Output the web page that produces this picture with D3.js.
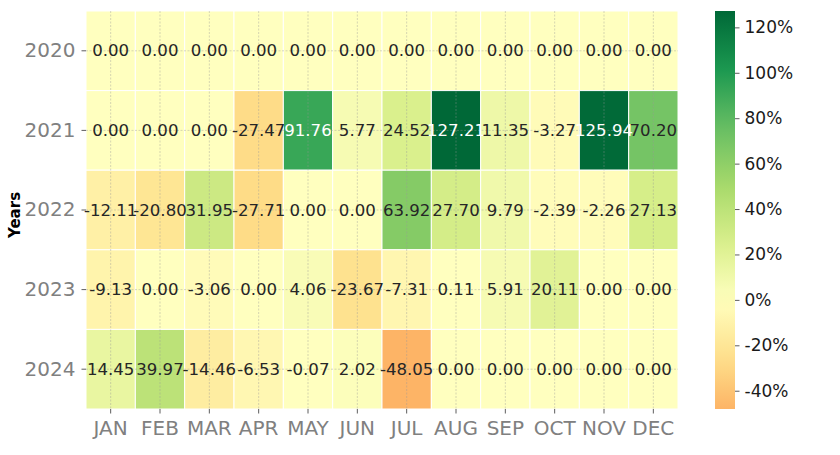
<!DOCTYPE html>
<html><head><meta charset="utf-8">
<script src="https://cdn.jsdelivr.net/npm/d3@7"></script>
<style>body{margin:0;background:#fff}svg{display:block;font-family:"DejaVu Sans",sans-serif}</style>
</head><body><svg id="c" width="840" height="455"></svg>
<script>
const months = ["JAN","FEB","MAR","APR","MAY","JUN","JUL","AUG","SEP","OCT","NOV","DEC"];
const years = ["2020","2021","2022","2023","2024"];
const v2020 = [0,0,0,0,0,0,0,0,0,0,0,0];
const v2021 = [0,0,0,-27.47,91.76,5.77,24.52,127.21,11.35,-3.27,125.94,70.20];
const v2022 = [-12.11,-20.80,31.95,-27.71,0,0,63.92,27.70,9.79,-2.39,-2.26,27.13];
const v2023 = [-9.13,0,-3.06,0,4.06,-23.67,-7.31,0.11,5.91,20.11,0,0];
const v2024 = [14.45,39.97,-14.46,-6.53,-0.07,2.02,-48.05,0,0,0,0,0];
const rows = [v2020,v2021,v2022,v2023,v2024];
const cbTicks = [-40,-20,0,20,40,60,80,100,120];

const svg = d3.select("#c");
const L=86,R=678,T=11,B=409;
const x = d3.scaleBand().domain(months).range([L,R]);
const y = d3.scaleBand().domain(years).range([T,B]);
const all = rows.flat();
const vmin = d3.min(all), vmax = d3.max(all);
const vr = Math.max(vmax, -vmin);
const stops = ["#a50026","#d73027","#f46d43","#fdae61","#fee08b","#ffffbf","#d9ef8b","#a6d96a","#66bd63","#1a9850","#006837"];
const cm = d3.scaleLinear().domain(d3.range(11).map(i=>i/10)).range(stops).interpolate(d3.interpolateRgb).clamp(true);
const color = v => cm(0.5 + v/(2*vr));
function lum(c){const r=d3.rgb(c);const f=u=>{u/=255;return u<=0.03928?u/12.92:Math.pow((u+0.055)/1.055,2.4)};return 0.2126*f(r.r)+0.7152*f(r.g)+0.0722*f(r.b);}

const cells=[];
rows.forEach((r,i)=>r.forEach((v,j)=>cells.push({yr:years[i],m:months[j],v})));
svg.append("g").selectAll("rect").data(cells).join("rect")
  .attr("x",d=>x(d.m)).attr("y",d=>y(d.yr)).attr("width",x.bandwidth()).attr("height",y.bandwidth())
  .attr("fill",d=>color(d.v)).attr("stroke","#fff").attr("stroke-width",1);

// grid
const g = svg.append("g").attr("stroke","#999").attr("stroke-width",0.5).attr("stroke-dasharray","2,1.5").attr("opacity",0.8);
months.forEach(m=>g.append("line").attr("x1",x(m)+x.bandwidth()/2).attr("x2",x(m)+x.bandwidth()/2).attr("y1",T).attr("y2",B));
years.forEach(yr=>g.append("line").attr("y1",y(yr)+y.bandwidth()/2).attr("y2",y(yr)+y.bandwidth()/2).attr("x1",L).attr("x2",R));

svg.append("g").selectAll("text").data(cells).join("text")
  .attr("x",d=>x(d.m)+x.bandwidth()/2).attr("y",d=>y(d.yr)+y.bandwidth()/2)
  .attr("text-anchor","middle").attr("dominant-baseline","central")
  .attr("font-size",16.6).attr("fill",d=>lum(color(d.v))>0.408?"#262626":"#fff")
  .text(d=>d.v.toFixed(2));

// axes
const xa = svg.append("g").attr("transform",`translate(0,${B})`).call(d3.axisBottom(x).tickSize(4.5).tickPadding(5));
const ya = svg.append("g").attr("transform",`translate(${L},0)`).call(d3.axisLeft(y).tickSize(4.5).tickPadding(6));
[xa,ya].forEach(a=>{a.select(".domain").remove();a.selectAll(".tick line").attr("stroke","#333").attr("stroke-width",0.8);
  a.selectAll(".tick text").attr("fill","#808080").attr("font-size",20).attr("font-family","DejaVu Sans");});
xa.selectAll(".tick text").attr("dy","0.8em");
svg.append("text").attr("transform","translate(20,215) rotate(-90)").attr("text-anchor","middle")
  .attr("font-size",15).attr("font-weight","bold").attr("fill","#000").text("Years");

// colorbar
const CL=715,CW=20;
const cy = d3.scaleLinear().domain([vmin,vmax]).range([B,T]);
const defs = svg.append("defs");
const grad = defs.append("linearGradient").attr("id","cb").attr("x1",0).attr("x2",0).attr("y1",1).attr("y2",0);
d3.range(0,1.0001,0.05).forEach(t=>grad.append("stop").attr("offset",t).attr("stop-color",color(vmin+t*(vmax-vmin))));
svg.append("rect").attr("x",CL).attr("y",T).attr("width",CW).attr("height",B-T).attr("fill","url(#cb)");
const ca = svg.append("g").attr("transform",`translate(${CL+CW},0)`).call(d3.axisRight(cy).tickValues(cbTicks).tickFormat(d=>d+"%").tickSize(4.5).tickPadding(5));
ca.select(".domain").remove();
ca.selectAll(".tick line").attr("stroke","#333").attr("stroke-width",0.8);
ca.selectAll(".tick text").attr("fill","#1a1a1a").attr("font-size",17).attr("font-family","DejaVu Sans");
</script></body></html>
